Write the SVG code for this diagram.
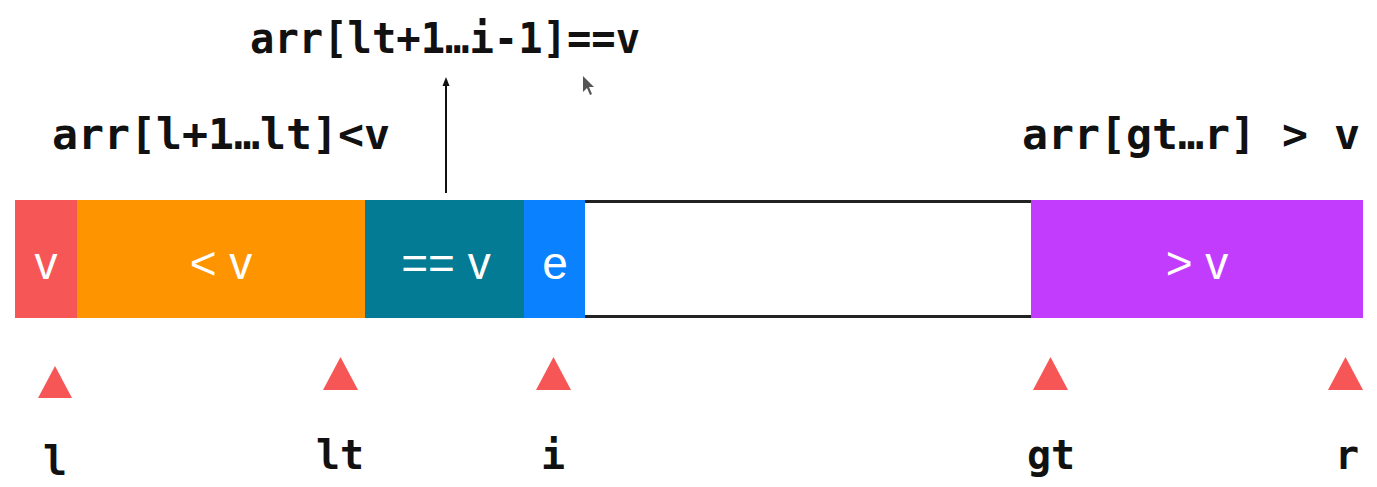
<svg xmlns="http://www.w3.org/2000/svg" width="1377" height="487" viewBox="0 0 1377 487">
<style>
.code{font-family:"DejaVu Sans Mono","Liberation Mono",monospace;font-weight:bold;fill:#111;}
.cell{font-family:"Liberation Sans","DejaVu Sans",sans-serif;fill:#fff;font-size:46px;text-anchor:middle;}
.ptr{fill:#f65656;}
.idx{font-family:"DejaVu Sans Mono","Liberation Mono",monospace;font-weight:bold;fill:#111;font-size:40px;text-anchor:middle;}
</style>
<rect width="1377" height="487" fill="#fff"/>
<g id="labels">
<text class="code" x="250" y="53" font-size="42" textLength="390" lengthAdjust="spacingAndGlyphs">arr[lt+1…i-1]==v</text>
<text class="code" x="52" y="149" font-size="42" textLength="338" lengthAdjust="spacingAndGlyphs">arr[l+1…lt]&lt;v</text>
<text class="code" x="1022" y="149" font-size="42" textLength="338" lengthAdjust="spacingAndGlyphs">arr[gt…r] &gt; v</text>
</g>
<g id="connectors">
<line x1="446" y1="193" x2="446" y2="84" stroke="#111" stroke-width="2"/>
<polygon points="446,77 442.5,86 449.5,86" fill="#111"/>
</g>
<g id="cursor">
<path d="M583,76 L583,92 L587,88 L590,95 L592,94 L589,87 L594,87 Z" fill="#555"/>
</g>
<g id="cell-pivot">
<rect x="15" y="200" width="62" height="118" fill="#f65656"/>
<text class="cell" x="46" y="279">v</text>
</g>
<g id="cell-less">
<rect x="77" y="200" width="288" height="118" fill="#fe9400"/>
<text class="cell" x="221" y="279">&lt; v</text>
</g>
<g id="cell-equal">
<rect x="365" y="200" width="159" height="118" fill="#037b94"/>
<text class="cell" x="446" y="279">== v</text>
</g>
<g id="cell-e">
<rect x="524" y="200" width="61" height="118" fill="#0a82ff"/>
<text class="cell" x="555" y="279">e</text>
</g>
<g id="cell-unknown">
<rect x="585" y="201.5" width="446" height="115" fill="#fff"/>
<line x1="585" y1="201.5" x2="1031" y2="201.5" stroke="#222" stroke-width="3"/>
<line x1="585" y1="316.5" x2="1031" y2="316.5" stroke="#222" stroke-width="3"/>
</g>
<g id="cell-greater">
<rect x="1031" y="200" width="332" height="118" fill="#c23cfd"/>
<text class="cell" x="1197" y="279">&gt; v</text>
</g>
<g id="ptr-l">
<polygon class="ptr" points="38,398 72,398 55,366"/>
<text class="idx" x="55" y="475">l</text>
</g>
<g id="ptr-lt">
<polygon class="ptr" points="323,390 358,390 340.5,357"/>
<text class="idx" x="340" y="469">lt</text>
</g>
<g id="ptr-i">
<polygon class="ptr" points="536,390 571,390 553.5,357"/>
<text class="idx" x="553" y="469">i</text>
</g>
<g id="ptr-gt">
<polygon class="ptr" points="1033,390 1068,390 1050.5,357"/>
<text class="idx" x="1051" y="469">gt</text>
</g>
<g id="ptr-r">
<polygon class="ptr" points="1328,390 1363,390 1345.5,357"/>
<text class="idx" x="1347" y="469">r</text>
</g>
</svg>
